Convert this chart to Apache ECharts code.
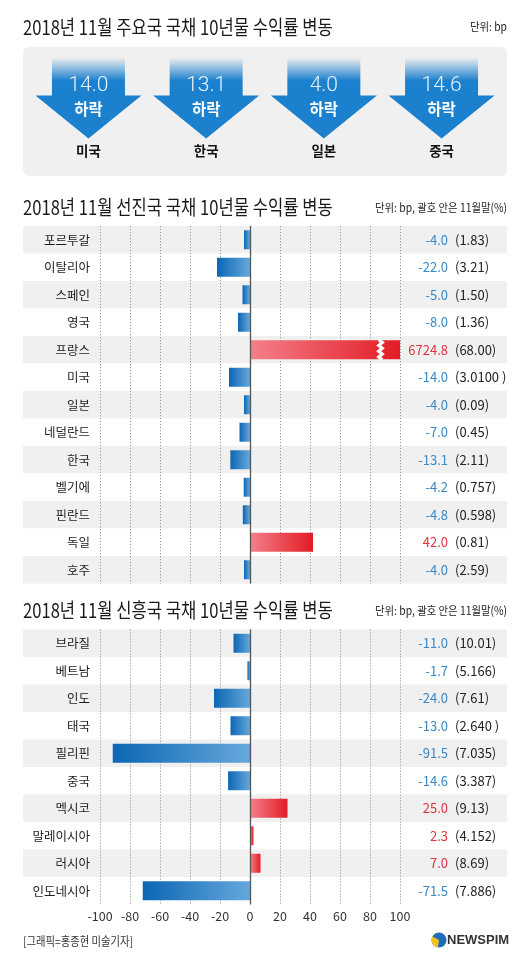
<!DOCTYPE html>
<html><head><meta charset="utf-8">
<script src="https://cdn.jsdelivr.net/npm/echarts@6/dist/echarts.min.js"></script>
<style>html,body{margin:0;padding:0;background:#fff}#c{width:530px;height:964px}</style>
</head><body><div id="c"></div>
<script>
// ---- data ----
const topCountries = ['미국', '한국', '일본', '중국'];
const topDrops = [14.0, 13.1, 4.0, 14.6];

const advCats = ['포르투갈', '이탈리아', '스페인', '영국', '프랑스', '미국', '일본', '네덜란드', '한국', '벨기에', '핀란드', '독일', '호주'];
const advChange = [-4.0, -22.0, -5.0, -8.0, 6724.8, -14.0, -4.0, -7.0, -13.1, -4.2, -4.8, 42.0, -4.0];
const advYield = ['1.83', '3.21', '1.50', '1.36', '68.00', '3.0100 ', '0.09', '0.45', '2.11', '0.757', '0.598', '0.81', '2.59'];

const emCats = ['브라질', '베트남', '인도', '태국', '필리핀', '중국', '멕시코', '말레이시아', '러시아', '인도네시아'];
const emChange = [-11.0, -1.7, -24.0, -13.0, -91.5, -14.6, 25.0, 2.3, 7.0, -71.5];
const emYield = ['10.01', '5.166', '7.61', '2.640 ', '7.035', '3.387', '9.13', '4.152', '8.69', '7.886'];

const xMin = -100, xMax = 100, xStep = 20;

// ---- style ----
const KR = '"Noto Sans CJK KR", "Noto Sans", sans-serif';
const BLUE_TXT = '#3a88c5', RED_TXT = '#e0333d';
const BAND = '#f0f0f0';
const BAND_L = 23, BAND_R = 507;
const BREAK_AT = 87;

const chart = echarts.init(document.getElementById('c'), null, {renderer: 'canvas'});

function barColor(v) {
  return v < 0
    ? {type: 'linear', x: 0, y: 0, x2: 1, y2: 0, colorStops: [{offset: 0, color: '#0c66b3'}, {offset: 1, color: '#66a8dc'}]}
    : {type: 'linear', x: 0, y: 0, x2: 1, y2: 0, colorStops: [{offset: 0, color: '#f4808a'}, {offset: 1, color: '#e31b24'}]};
}

function fmt(v) { return v.toFixed(1); }

const grids = [
  {left: 100, right: 130, top: 226, height: 357.5, outerBoundsMode: 'none'},
  {left: 100, right: 130, top: 629.5, height: 275, outerBoundsMode: 'none'}
];

const xAxes = [0, 1].map(g => ({
  type: 'value', gridIndex: g, min: xMin, max: xMax, interval: xStep,
  axisLine: {show: false}, axisTick: {show: false},
  splitLine: {show: true, lineStyle: {type: [1.2, 1.8], color: '#9a9a9a', width: 1}},
  axisLabel: {show: g === 1, fontSize: 12.5, color: '#333', margin: 5, fontFamily: KR}
}));

function yAxesFor(g, cats, vals, ylds) {
  const common = {type: 'category', gridIndex: g, data: cats, inverse: true,
    axisLine: {show: false}, axisTick: {show: false}, splitLine: {show: false}};
  return [
    Object.assign({}, common, {position: 'left',
      axisLabel: {interval: 0, fontSize: 12.5, color: '#1e1e1e', margin: 10, fontFamily: KR}}),
    Object.assign({}, common, {position: 'right',
      axisLabel: {interval: 0, margin: 48, align: 'right', fontSize: 13, fontFamily: KR,
        formatter: (v, i) => (vals[i] < 0 ? '{n|' : '{p|') + fmt(vals[i]) + '}',
        rich: {n: {color: BLUE_TXT, fontSize: 13, fontFamily: KR}, p: {color: RED_TXT, fontSize: 13, fontFamily: KR}}}}),
    Object.assign({}, common, {position: 'right',
      axisLabel: {interval: 0, margin: 55, align: 'left', fontSize: 13, color: '#222', fontFamily: KR,
        formatter: (v, i) => '(' + ylds[i] + ')'}})
  ];
}

const yAxes = [].concat(yAxesFor(0, advCats, advChange, advYield), yAxesFor(1, emCats, emChange, emYield));

function seriesFor(g, cats, vals) {
  const yBase = g * 3;
  return [
    {
      type: 'custom', xAxisIndex: g, yAxisIndex: yBase, z: -10, silent: true,
      data: cats.map((c, i) => [0, i]),
      renderItem: function (params, api) {
        const p = api.coord([0, api.value(1)]);
        const h = api.size([0, 1])[1];
        return {type: 'rect', shape: {x: BAND_L, y: p[1] - h / 2, width: BAND_R - BAND_L, height: h},
          style: {fill: api.value(1) % 2 === 0 ? BAND : '#ffffff'}};
      }
    },
    {
      type: 'bar', xAxisIndex: g, yAxisIndex: yBase, barWidth: 19, silent: true,
      data: vals.map(v => ({value: v, itemStyle: {color: barColor(v)}})),
      markLine: {silent: true, symbol: 'none', label: {show: false},
        lineStyle: {type: 'solid', color: '#555', width: 1.3},
        data: [{xAxis: 0}]}
    },
    {
      type: 'custom', xAxisIndex: g, yAxisIndex: yBase, z: 5, silent: true,
      data: vals.map((v, i) => [v, i]).filter(d => d[0] > xMax).map(d => [BREAK_AT, d[1]]),
      renderItem: function (params, api) {
        const p = api.coord([api.value(0), api.value(1)]);
        const hh = 19 / 2;
        const pts = [];
        const n = 7;
        for (let k = 0; k <= n; k++) {
          pts.push([p[0] + (k % 2 === 0 ? -1.8 : 1.8), p[1] - hh - 0.5 + (19 + 1) * k / n]);
        }
        return {type: 'polyline', shape: {points: pts}, style: {stroke: '#ffffff', lineWidth: 3.2, fill: null}};
      }
    }
  ];
}

const series = [].concat(seriesFor(0, advCats, advChange), seriesFor(1, emCats, emChange));

// ---- graphic: titles, top arrows, footer ----
const graphic = [];
function title(text, y) {
  graphic.push({type: 'text', x: 23, y: y, scaleX: 0.83, silent: true,
    style: {text: text, fontSize: 20, fontFamily: KR, fill: '#1a1a1a', textVerticalAlign: 'middle', textAlign: 'left'}});
}
function unit(text, y) {
  graphic.push({type: 'text', x: 507, y: y, scaleX: 0.9, silent: true,
    style: {text: text, fontSize: 11.5, fontFamily: KR, fill: '#222', textVerticalAlign: 'middle', textAlign: 'right'}});
}
title('2018년 11월 주요국 국채 10년물 수익률 변동', 27);
unit('단위: bp', 27);
title('2018년 11월 선진국 국채 10년물 수익률 변동', 207);
unit('단위: bp, 괄호 안은 11월말(%)', 208);
title('2018년 11월 신흥국 국채 10년물 수익률 변동', 610);
unit('단위: bp, 괄호 안은 11월말(%)', 611);

graphic.push({type: 'rect', shape: {x: 23, y: 47, width: 484, height: 129, r: 6}, style: {fill: BAND}, silent: true});
const ARROW = '#1b80cd';
topCountries.forEach((c, i) => {
  const cx = 265 + (i - 1.5) * 117.7;
  graphic.push({type: 'rect', silent: true, shape: {x: cx - 36.5, y: 58, width: 73, height: 38},
    style: {fill: {type: 'linear', x: 0, y: 0, x2: 0, y2: 1, colorStops: [
      {offset: 0, color: 'rgba(27,128,205,0.02)'}, {offset: 0.6, color: ARROW}, {offset: 1, color: ARROW}]}}});
  graphic.push({type: 'polygon', silent: true, shape: {points: [[cx - 53, 95.5], [cx + 53, 95.5], [cx, 138.5]]},
    style: {fill: ARROW}});
  graphic.push({type: 'text', x: cx, y: 86, silent: true,
    style: {text: topDrops[i].toFixed(1), fontSize: 21, fontWeight: 300, fontFamily: 'Roboto, "Noto Sans", sans-serif',
      fill: '#ffffff', opacity: 0.9, textAlign: 'center', textVerticalAlign: 'middle'}});
  graphic.push({type: 'text', x: cx, y: 109, silent: true,
    style: {text: '하락', fontSize: 15.5, fontWeight: 'bold', fontFamily: KR, fill: '#ffffff', textAlign: 'center', textVerticalAlign: 'middle'}});
  graphic.push({type: 'text', x: cx, y: 151, silent: true,
    style: {text: c, fontSize: 13.5, fontWeight: 'bold', fontFamily: KR, fill: '#111', textAlign: 'center', textVerticalAlign: 'middle'}});
});

graphic.push({type: 'text', x: 23, y: 941, scaleX: 0.86, silent: true,
  style: {text: '[그래픽=홍종현 미술기자]', fontSize: 12, fontFamily: KR, fill: '#333', textVerticalAlign: 'middle'}});
// NEWSPIM logo
graphic.push({type: 'circle', silent: true, shape: {cx: 439, cy: 940, r: 7.5}, style: {fill: '#1e6fb8'}});
graphic.push({type: 'sector', silent: true, shape: {cx: 439, cy: 940, r: 7.5, startAngle: Math.PI * 0.55, endAngle: Math.PI * 1.15}, style: {fill: '#f4c21a'}});
graphic.push({type: 'text', x: 447, y: 940, silent: true,
  style: {text: 'NEWSPIM', fontSize: 13, fontWeight: 'bold', fontFamily: '"Liberation Sans", Arial, sans-serif', fill: '#333', textVerticalAlign: 'middle'}});

chart.setOption({
  animation: false,
  backgroundColor: '#ffffff',
  grid: grids,
  xAxis: xAxes,
  yAxis: yAxes,
  series: series,
  graphic: graphic
});
</script></body></html>
